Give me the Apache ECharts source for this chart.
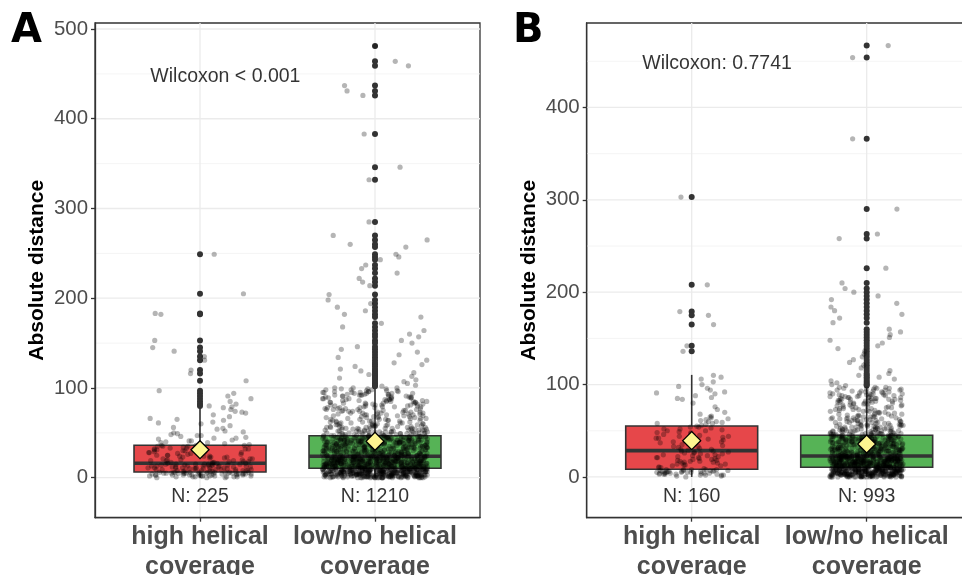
<!DOCTYPE html>
<html>
<head>
<meta charset="utf-8">
<script src="https://cdn.jsdelivr.net/npm/echarts@6/dist/echarts.min.js"></script>
<style>
  html, body { margin: 0; padding: 0; background: #fff; }
  #chart { width: 962px; height: 575px; }
</style>
</head>
<body>
<div id="chart"></div>
<script>
// ---- categories and labels ----
const groups = ['high helical\ncoverage', 'low/no helical\ncoverage'];
const testA = 'Wilcoxon < 0.001';
const testB = 'Wilcoxon: 0.7741';
const yTicksA = [0, 100, 200, 300, 400, 500];
const yTicksB = [0, 100, 200, 300, 400];

// ---- box statistics: [lower whisker, Q1, median, Q3, upper whisker] ----
const boxA = [[0, 6.4, 16, 36.1, 79], [0, 10.5, 23.8, 46.8, 100.8]];
const boxB = [[0, 8.3, 28.5, 55.2, 110.5], [0, 10.5, 22.7, 45.1, 97.8]];
const meansA = [31.2, 40.6];
const meansB = [39.3, 35.7];

// ---- outliers beyond the whiskers ----
const outHighA = [249,205,183,182,153,145,141,135,131,120,116,108,97,94,91,88,85,82,80];
const outLowA = [481,464,459,437,431,426,383,346,332,285,270,265,260,257,249,246,243,237,233,228,
  222,218,214,204,198,194,190,186,182,179,172,168,164,160,157,153,150,146,143,140,
  137,134,131,128,126,124,121,119,117,115,113,111,109,107,105,103,102];
const outHighB = [303,208,179,175,165,142,136];
const outLowB = [467,454,366,290,263,258,226,210,204,200,196,192,188,184,180,176,172,167,160,157,
  154,151,148,145,142,139,136,133,130,127,124,121,118,115,112,110,108,106,104,102,100,99];

// ---- distances inside the whisker range ----
// high helical coverage: individual distances
const distHighA = [
  0,0,1,1,1,1,2,2,2,2,2,3,3,3,3,3,3,4,4,4,4,4,4,4,5,5,5,5,5,5,5,5,6,6,6,6,6,6,6,6,1,2,3,4,5,6,0,1,2,3,4,5,6,3,4,5,
  7,7,7,8,8,8,8,9,9,9,9,10,10,10,10,11,11,11,11,12,12,12,12,13,13,13,13,14,14,14,14,15,15,15,15,16,16,16,7,8,9,10,11,12,13,14,15,16,8,9,10,11,12,13,14,15,
  17,17,18,18,19,19,20,20,21,21,22,22,23,23,24,24,25,25,26,26,27,27,28,28,29,29,30,30,31,31,32,32,33,33,34,34,35,35,36,36,17,19,21,23,25,27,29,31,33,35,18,20,24,28,32,36,
  37,38,39,40,41,42,43,44,45,46,47,48,49,50,52,54,56,58,60,62,64,66,68,70,72,74,76,78,79,39,41,44,47,51,55,61,65,73
];
const distHighB = [
  0,1,1,2,2,2,3,3,3,3,4,4,4,4,4,5,5,5,5,5,6,6,6,6,6,7,7,7,7,7,8,8,8,8,8,2,3,4,5,6,
  9,10,11,12,13,14,15,16,17,18,19,20,21,22,23,24,25,26,27,28,10,12,14,15,16,17,18,19,20,21,22,23,24,25,26,27,28,13,17,21,
  29,30,31,32,33,34,35,36,37,38,39,40,41,42,43,44,45,46,47,48,49,50,51,52,53,54,55,30,33,36,38,40,42,45,48,50,52,54,35,44,
  56,57,58,59,60,61,62,64,66,68,70,73,76,80,84,86,88,90,92,94,96,98,100,103,106,108,110,58,60,63,65,85,91
];
// low/no helical coverage: number of cases at each distance 0, 1, 2, ...
const countsLowA = [
  21,29,29,28,28,28,28,28,28,28,28,
  24,24,24,24,23,23,23,23,23,23,23,23,23,
  14,14,14,13,13,13,13,13,13,13,13,13,13,13,13,13,13,13,13,13,13,13,13,
  8,8,7,7,7,7,6,6,6,6,6,5,5,5,
  4,4,4,4,4,4,4,4,4,4,4,4,4,4,4,4,4,4,4,4,
  4,4,4,4,4,4,4,4,4,4,4,4,4,4,4,4,3,3,3,3
];
const countsLowB = [
  19,23,23,23,23,23,23,23,23,23,23,
  21,21,21,21,21,21,21,21,20,20,20,20,
  11,11,11,11,11,11,11,11,11,11,11,11,11,11,11,11,11,11,10,10,10,10,10,
  7,7,6,6,6,6,5,5,5,5,5,5,4,4,4,
  4,4,4,4,4,3,3,3,3,3,3,3,3,3,3,3,3,3,3,3,
  4,4,4,4,4,4,4,4,4,4,3,3,3,3,3,3,3
];

// ---- drawing ----
const FONT = 'Liberation Sans, Arial, Helvetica, sans-serif';
const boxFill = ['#e6474a', '#56b356'];
const INK = '#333333';

function fromCounts(counts) {
  const out = [];
  counts.forEach((c, v) => { for (let k = 0; k < c; k++) out.push(v); });
  return out;
}
const distLowA = fromCounts(countsLowA);
const distLowB = fromCounts(countsLowB);
const allA = [distHighA.concat(outHighA), distLowA.concat(outLowA)];
const allB = [distHighB.concat(outHighB), distLowB.concat(outLowB)];

// horizontal spread of the jittered points (deterministic per index)
function jitter(i, seed) {
  const s = Math.sin((i + 1) * 12.9898 + seed * 78.233) * 43758.5453;
  return (s - Math.floor(s)) * 2 - 1;
}
function jitterPoints(values, x, seed, width) {
  return values.map((v, i) => [x + width * jitter(i, seed), v]);
}

// panel background grid: [kind, value]; 0 = major horizontal, 1 = minor horizontal, 2 = vertical
function gridItems(yMax) {
  const items = [];
  for (let v = 50; v <= yMax; v += 100) items.push([1, v]);
  for (let v = 0; v <= yMax; v += 100) items.push([0, v]);
  items.push([2, 1], [2, 2]);
  return items;
}

function panelSeries(idx, box, means, outliers, all, testText, yMax, spread) {
  const ax = { xAxisIndex: idx, yAxisIndex: idx };
  return [
    Object.assign({
      type: 'custom', z: 0, silent: true,
      data: gridItems(yMax),
      renderItem: function (params, api) {
        const cs = params.coordSys;
        const kind = api.value(0), v = api.value(1);
        let shape;
        if (kind === 2) {
          const px = api.coord([v, 0])[0];
          shape = { x1: px, y1: cs.y, x2: px, y2: cs.y + cs.height };
        } else {
          const py = api.coord([1, v])[1];
          shape = { x1: cs.x, y1: py, x2: cs.x + cs.width, y2: py };
        }
        return { type: 'line', shape: shape,
          style: { stroke: kind === 1 ? '#f1f1f1' : '#ebebeb', lineWidth: kind === 1 ? 0.8 : 1.3 } };
      }
    }, ax),
    Object.assign({
      type: 'custom', z: 2, silent: true,
      data: box.map((b, i) => [i + 1].concat(b).concat([i])),
      renderItem: function (params, api) {
        const x = api.value(0), lo = api.value(1), q1 = api.value(2), med = api.value(3),
              q3 = api.value(4), hi = api.value(5), k = api.value(6);
        const hw = 0.377;
        const a = api.coord([x - hw, q3]), b = api.coord([x + hw, q1]);
        const pLo = api.coord([x, lo]), pQ1 = api.coord([x, q1]);
        const pQ3 = api.coord([x, q3]), pHi = api.coord([x, hi]);
        const mL = api.coord([x - hw, med]), mR = api.coord([x + hw, med]);
        return { type: 'group', children: [
          { type: 'line', shape: { x1: pLo[0], y1: pLo[1], x2: pQ1[0], y2: pQ1[1] }, style: { stroke: INK, lineWidth: 1.6 } },
          { type: 'line', shape: { x1: pQ3[0], y1: pQ3[1], x2: pHi[0], y2: pHi[1] }, style: { stroke: INK, lineWidth: 1.6 } },
          { type: 'rect', shape: { x: a[0], y: a[1], width: b[0] - a[0], height: b[1] - a[1] },
            style: { fill: boxFill[k], stroke: INK, lineWidth: 1.6 } },
          { type: 'line', shape: { x1: mL[0], y1: mL[1], x2: mR[0], y2: mR[1] }, style: { stroke: INK, lineWidth: 3.6 } }
        ] };
      }
    }, ax),
    Object.assign({
      type: 'scatter', z: 3, silent: true, symbolSize: 6, progressive: 0,
      itemStyle: { color: '#333333', opacity: 1 },
      data: outliers[0].map(v => [1, v]).concat(outliers[1].map(v => [2, v]))
    }, ax),
    Object.assign({
      type: 'scatter', z: 4, silent: true, symbolSize: 5.2, progressive: 0,
      itemStyle: { color: '#000', opacity: 0.29 },
      data: jitterPoints(all[0], 1, idx * 2 + 1, spread).concat(jitterPoints(all[1], 2, idx * 2 + 2, spread))
    }, ax),
    Object.assign({
      type: 'scatter', z: 5, silent: true, symbol: 'diamond', symbolSize: 18,
      itemStyle: { color: '#fdf590', borderColor: '#000', borderWidth: 1.3, opacity: 1 },
      data: means.map((m, i) => [i + 1, m])
    }, ax),
    Object.assign({
      type: 'scatter', z: 6, silent: true, symbolSize: 1,
      itemStyle: { color: 'transparent' },
      label: { show: true, position: 'inside', color: '#000', fontFamily: FONT, fontSize: 19.5,
        formatter: p => p.data.text },
      data: [
        { value: [1, -21], text: 'N: ' + all[0].length },
        { value: [2, -21], text: 'N: ' + all[1].length },
        { value: [1.145, 447], text: testText }
      ]
    }, ax)
  ];
}

function xAxisFor(idx) {
  return {
    gridIndex: idx, type: 'value', min: 0.4, max: 2.6,
    axisLine: { show: true, onZero: false, lineStyle: { color: INK, width: 1.3 } },
    axisTick: { show: true, customValues: [1, 2], length: 4, lineStyle: { color: INK, width: 1.3 } },
    axisLabel: { show: true, customValues: [1, 2], margin: 4,
      formatter: v => groups[Math.round(v) - 1],
      color: '#4d4d4d', fontFamily: FONT, fontWeight: 'bold', fontSize: 25, lineHeight: 30 },
    splitLine: { show: false }
  };
}
function yAxisFor(idx, min, max, ticks) {
  return {
    gridIndex: idx, type: 'value', min: min, max: max,
    name: 'Absolute distance', nameLocation: 'middle', nameGap: 47, nameRotate: 90,
    nameTextStyle: { color: '#000', fontFamily: FONT, fontWeight: 'bold', fontSize: 21 },
    axisLine: { show: true, onZero: false, lineStyle: { color: INK, width: 1.3 } },
    axisTick: { show: true, customValues: ticks, length: 4, lineStyle: { color: INK, width: 1.3 } },
    axisLabel: { show: true, customValues: ticks, margin: 7,
      color: '#4d4d4d', fontFamily: FONT, fontSize: 20.4 },
    splitLine: { show: false }
  };
}

const chart = echarts.init(document.getElementById('chart'), null, { renderer: 'canvas' });
chart.setOption({
  animation: false,
  backgroundColor: '#fff',
  grid: [
    { left: 95, top: 23, width: 385, height: 494.7, show: true, borderColor: INK, borderWidth: 1.3,
      backgroundColor: 'transparent', containLabel: false, outerBoundsMode: 'none' },
    { left: 586.7, top: 23, width: 385, height: 494.7, show: true, borderColor: INK, borderWidth: 1.3,
      backgroundColor: 'transparent', containLabel: false, outerBoundsMode: 'none' }
  ],
  xAxis: [xAxisFor(0), xAxisFor(1)],
  yAxis: [yAxisFor(0, -44.6, 506.7, yTicksA), yAxisFor(1, -44.1, 491.4, yTicksB)],
  graphic: [
    { type: 'text', left: 11, top: 12, style: { text: 'A', fontFamily: 'DejaVu Sans', fontWeight: 'bold', fontSize: 40, fill: '#000' } },
    { type: 'text', left: 513, top: 12, style: { text: 'B', fontFamily: 'DejaVu Sans', fontWeight: 'bold', fontSize: 40, fill: '#000' } }
  ],
  series: [].concat(
    panelSeries(0, boxA, meansA, [outHighA, outLowA], allA, testA, 500, 0.3),
    panelSeries(1, boxB, meansB, [outHighB, outLowB], allB, testB, 450, 0.21)
  )
});
</script>
</body>
</html>
